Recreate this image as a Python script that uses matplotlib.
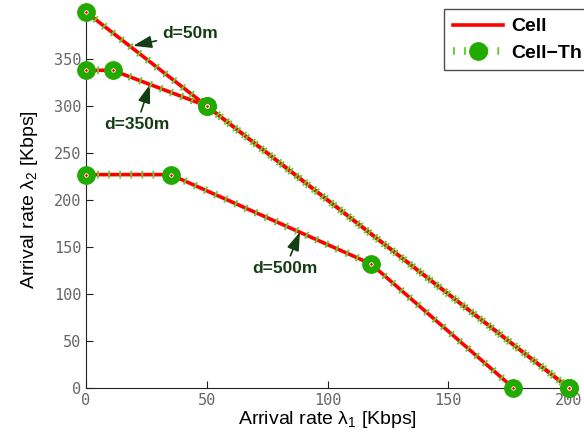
import matplotlib
matplotlib.use('Agg')
import matplotlib.pyplot as plt

plt.rcParams['mathtext.fontset'] = 'custom'
plt.rcParams['mathtext.rm'] = 'Liberation Sans'
plt.rcParams['mathtext.it'] = 'Liberation Sans'

# boundary points for each distance
x_50 = [0, 50, 200]
y_50 = [400, 300, 0]
x_350 = [0, 11, 50, 200]
y_350 = [338, 338, 300, 0]
x_500 = [0, 35, 118, 177]
y_500 = [227, 227, 132, 0]

xticks = [0, 50, 100, 150, 200]
yticks = [0, 50, 100, 150, 200, 250, 300, 350]

fig = plt.figure(figsize=(5.84, 4.42), dpi=100)
ax = fig.add_axes([86 / 584, 1 - 388 / 442, (569 - 86) / 584, (388 - 12) / 442])

red = '#ff0000'
green = '#22aa00'
light = '#66cc33'
dark = '#143d14'

for i, (xs, ys) in enumerate([(x_50, y_50), (x_350, y_350), (x_500, y_500)]):
    ax.plot(xs, ys, '-', color=red, lw=2.6, label='Cell' if i == 0 else None,
            zorder=3, clip_on=False)
    ax.plot(xs, ys, color=light, lw=5.5, dashes=(0.25, 1.2), dash_capstyle='butt',
            marker='o', ms=12.5, mfc=green, mec=green,
            label='Cell\u2212Th' if i == 0 else None, zorder=4, clip_on=False)
    ax.plot(xs, ys, 'o', ms=2.5, mfc=red, mec='white', mew=0.6, zorder=5,
            clip_on=False)

ax.set_xlim(0, 200)
ax.set_ylim(0, 400)
ax.set_xticks(xticks)
ax.set_yticks(yticks)
ax.tick_params(direction='in', length=5, width=0.8, colors='#222222',
               labelcolor='#666666', labelsize=11)
for lab in ax.get_xticklabels() + ax.get_yticklabels():
    lab.set_family('DejaVu Sans Mono')
ax.spines['top'].set_visible(False)
ax.spines['right'].set_visible(False)
ax.spines['left'].set_color('#222222')
ax.spines['bottom'].set_color('#222222')

ax.set_xlabel(r'Arrival rate $\mathrm{\lambda_1}$ [Kbps]', fontsize=14,
              family='Liberation Sans', labelpad=1)
ax.set_ylabel(r'Arrival rate $\mathrm{\lambda_2}$ [Kbps]', fontsize=14,
              family='Liberation Sans', labelpad=10)

arrow = dict(arrowstyle='-|>,head_length=0.9,head_width=0.3', color=dark, lw=1.2,
             shrinkA=2, shrinkB=0)
ax.annotate('d=50m', xy=(19.5, 364), xytext=(43, 377), color=dark, fontsize=12.5,
            fontweight='bold', ha='center', va='center', arrowprops=arrow,
            family='Liberation Sans')
ax.annotate('d=350m', xy=(26.5, 323), xytext=(21, 280), color=dark, fontsize=12.5,
            fontweight='bold', ha='center', va='center', arrowprops=arrow,
            family='Liberation Sans')
ax.annotate('d=500m', xy=(88.6, 166), xytext=(82.5, 127), color=dark, fontsize=12.5,
            fontweight='bold', ha='center', va='center', arrowprops=arrow,
            family='Liberation Sans')

leg = fig.legend(loc='upper left', bbox_to_anchor=(444 / 584, 1 - 9 / 442),
                 borderaxespad=0, frameon=True, fancybox=False, edgecolor='#222222',
                 prop={'family': 'Liberation Sans', 'weight': 'bold', 'size': 14},
                 handlelength=2.6, borderpad=0.45, labelspacing=0.45,
                 handletextpad=0.4)
leg.get_frame().set_linewidth(1.0)

fig.savefig('out.png', dpi=100)
